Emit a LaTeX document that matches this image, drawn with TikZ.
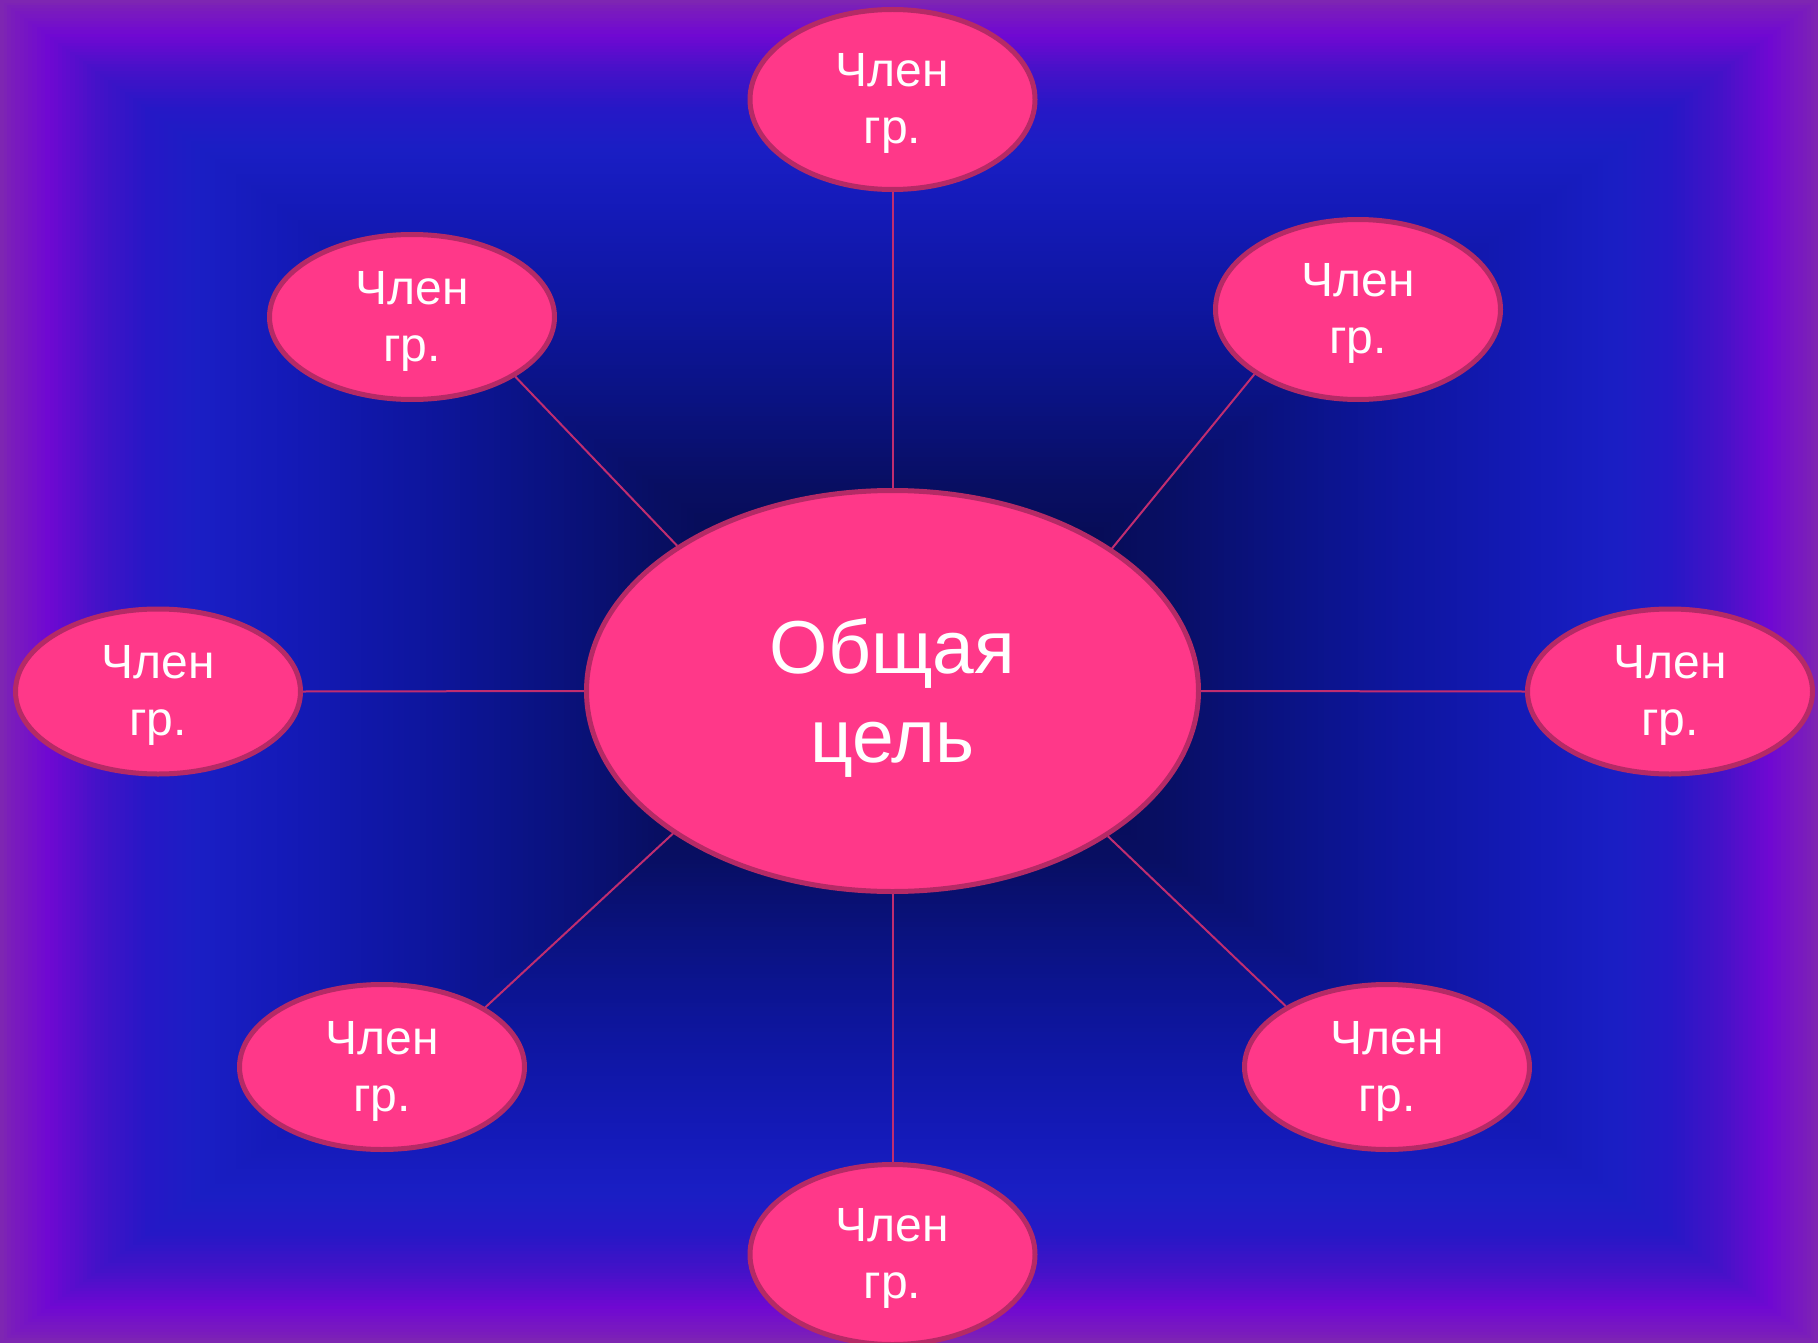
\documentclass[tikz,border=0pt]{standalone}
\usepackage{fontspec}
\setmainfont{Liberation Sans}
\usetikzlibrary{shapes.geometric}
\definecolor{nodefill}{RGB}{255,56,137}
\definecolor{edgecol}{RGB}{181,42,102}
\definecolor{linkcol}{RGB}{192,45,112}
\definecolor{gA}{HTML}{7E26B2}
\definecolor{gB}{HTML}{7A1CBC}
\definecolor{gC}{HTML}{7008D2}
\definecolor{gD}{HTML}{4412C8}
\definecolor{gE}{HTML}{2618C6}
\definecolor{gF}{HTML}{1A1EC4}
\definecolor{gG}{HTML}{141AB8}
\definecolor{gH}{HTML}{0E16A0}
\definecolor{gI}{HTML}{0A1280}
\definecolor{gJ}{HTML}{080E62}
\definecolor{gK}{HTML}{060B4E}
\definecolor{gL}{HTML}{050944}
\newcommand\bgseg[5]{%
  \foreach \bgi in {0,...,#5}{%
    \pgfmathsetmacro\bgt{#1-(#1-#2)*\bgi/#5}%
    \pgfmathtruncatemacro\bgp{100*\bgi/#5}%
    \fill[#4!\bgp!#3] ({909-909*\bgt},{671.5-671.5*\bgt}) rectangle ({909+909*\bgt},{671.5+671.5*\bgt});
  }}
\tikzset{
  member/.style={ellipse, draw=edgecol, fill=nodefill, line width=5pt,
    minimum width=285pt, minimum height=165pt, inner sep=0pt},
  membertall/.style={member, minimum height=180pt},
  goal/.style={ellipse, draw=edgecol, fill=nodefill, line width=5pt,
    minimum width=612pt, minimum height=401pt, inner sep=0pt},
  memtext/.style={text=white, align=center, inner sep=0pt,
    font=\fontsize{48}{57}\selectfont},
  goaltext/.style={text=white, align=center, inner sep=0pt,
    font=\fontsize{75}{89}\selectfont},
  link/.style={draw=linkcol, line width=2pt}
}
\begin{document}
\begin{tikzpicture}[x=1pt,y=-1pt]
\useasboundingbox (0,0) rectangle (1818,1343);
\clip (0,0) rectangle (1818,1343);
% background: rectangular path gradient
\bgseg{1.000}{0.988}{gA}{gB}{3}
\bgseg{0.988}{0.950}{gB}{gC}{8}
\bgseg{0.950}{0.895}{gC}{gD}{12}
\bgseg{0.895}{0.840}{gD}{gE}{12}
\bgseg{0.840}{0.780}{gE}{gF}{12}
\bgseg{0.780}{0.690}{gF}{gG}{16}
\bgseg{0.690}{0.550}{gG}{gH}{24}
\bgseg{0.550}{0.400}{gH}{gI}{24}
\bgseg{0.400}{0.280}{gI}{gJ}{18}
\bgseg{0.280}{0.150}{gJ}{gK}{18}
\bgseg{0.150}{0.000}{gK}{gL}{18}
% nodes
\node[goal] (c) at (892.5,691) {};
\node[membertall] (nt) at (892.5,99.5) {};
\node[membertall] (nur) at (1358,309.5) {};
\node[member] (nul) at (412,317) {};
\node[member] (nl) at (158,691.5) {};
\node[member] (nr) at (1670,691.5) {};
\node[member] (nll) at (382,1067) {};
\node[member] (nlr) at (1387,1067) {};
\node[membertall] (nb) at (892.5,1254.5) {};
% texts
\node[goaltext] (tc) at (892.5,698) {Общая\\цель};
\node[memtext] (tt) at (892.5,103.5) {Член\\гр.};
\node[memtext] (tur) at (1358,313.5) {Член\\гр.};
\node[memtext] (tul) at (412,321) {Член\\гр.};
\node[memtext] (tl) at (158,695.5) {Член\\гр.};
\node[memtext] (tr) at (1670,695.5) {Член\\гр.};
\node[memtext] (tll) at (382,1071) {Член\\гр.};
\node[memtext] (tlr) at (1387,1071) {Член\\гр.};
\node[memtext] (tb) at (892.5,1258.5) {Член\\гр.};
% connectors
\draw[link] (nt.south) -- (c.north);
\draw[link] (c.south) -- (nb.north);
\draw[link] (nl.east) -- (c.west);
\draw[link] (c.east) -- (nr.west);
\draw[link] (nul.330.5) -- (c.146.7);
\draw[link] (nur.212.6) -- (c.33.7);
\draw[link] (nll.30.6) -- (c.213.1);
\draw[link] (nlr.149.6) -- (c.326.6);
\end{tikzpicture}
\end{document}
